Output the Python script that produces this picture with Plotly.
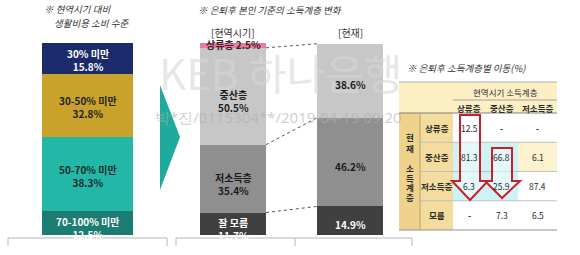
import plotly.graph_objects as go

W, H = 580, 255
FONT = "Noto Sans CJK KR"

# ---------------- data ----------------
left_title = ["※ 현역시기 대비", "생활비용 소비 수준"]
left_cats = ["30% 미만", "30-50% 미만", "50-70% 미만", "70-100% 미만"]
left_vals = [15.8, 32.8, 38.3, 12.5]
left_colors = ["#1b2a6b", "#c9a22c", "#22b7a6", "#1b7c71"]
left_text_colors = ["white", "#222222", "#1d2b2b", "white"]

mid_title = "※ 은퇴후 본인 기준의 소득계층 변화"
mid_periods = ["[현역시기]", "[현재]"]
mid_layers = ["상류층", "중산층", "저소득층", "잘 모름"]
mid_before = [2.5, 50.5, 35.4, 11.7]
mid_after = [0.0, 38.6, 46.2, 14.9]
mid_colors = ["#ec7a9c", "#c7c7c7", "#8f8f8f", "#404040"]
mid_text_colors = ["#3a1f2a", "#1a1a1a", "#1a1a1a", "white"]

table_title = "※ 은퇴후 소득계층별 이동(%)"
table_col_group = "현역시기 소득계층"
table_cols = ["상류층", "중산층", "저소득층"]
table_row_group = ["현", "재", "소", "득", "계", "층"]
table_rows = ["상류층", "중산층", "저소득층", "모름"]
table_vals = [["12.5", "-", "-"],
              ["81.3", "66.8", "6.1"],
              ["6.3", "25.9", "87.4"],
              ["-", "7.3", "6.5"]]

watermark1 = "KEB 하나은행"
watermark2 = "박*진/0115304**/2019-04-19 09:20"

# ---------------- helpers ----------------
def X(px):
    return px / W

def Y(py):
    return 1 - py / H

def P(points):
    return "M " + " L ".join(f"{X(a):.5f},{Y(b):.5f}" for a, b in points) + " Z"

fig = go.Figure()
annotations = []
shapes = []

def ann(**kw):
    d = dict(showarrow=False, xanchor="center", yanchor="middle")
    d.update(kw)
    annotations.append(d)

# ---------------- left stacked bar ----------------
for cat, v, c in reversed(list(zip(left_cats, left_vals, left_colors))):
    fig.add_trace(go.Bar(x=[0], y=[v], width=1, marker=dict(color=c, line=dict(width=0)),
                         name=cat, xaxis="x", yaxis="y", hoverinfo="skip"))
cum = 0
for cat, v, tc in reversed(list(zip(left_cats, left_vals, left_text_colors))):
    shift = -2 if cat != left_cats[-1] else -5
    ann(x=0, y=cum + v / 2, xref="x", yref="y", text=f"<b>{cat}<br>{v}%</b>", yshift=shift,
        font=dict(family=FONT, size=10, color=tc))
    cum += v
left_sum = sum(left_vals)

# ---------------- middle stacked bars ----------------
bw = 0.564
for lay, b, a, c in reversed(list(zip(mid_layers, mid_before, mid_after, mid_colors))):
    fig.add_trace(go.Bar(x=[0, 1], y=[b, a], width=bw, marker=dict(color=c, line=dict(width=0)),
                         name=lay, xaxis="x2", yaxis="y2", hoverinfo="skip"))
mid_sum = max(sum(mid_before), sum(mid_after))

cb = 0
ca = 0
cum_b = {}
cum_a = {}
for lay, b, a, tc in reversed(list(zip(mid_layers, mid_before, mid_after, mid_text_colors))):
    if lay == "상류층":
        ann(x=0, y=cb + b / 2, xref="x2", yref="y2", text=f"<b>{lay} {b}%</b>", yshift=1,
            font=dict(family=FONT, size=10, color=tc))
    else:
        ann(x=0, y=cb + b / 2, xref="x2", yref="y2", text=f"<b>{lay}<br>{b}%</b>", yshift=-5,
            font=dict(family=FONT, size=10, color=tc))
    if a > 0:
        ann(x=1, y=ca + a / 2, xref="x2", yref="y2", text=f"<b>{a}%</b>", yshift=-4,
            font=dict(family=FONT, size=10, color=tc))
    cb += b
    ca += a
    cum_b[lay] = cb
    cum_a[lay] = ca

# dotted connectors
for lay in ["중산층", "저소득층", "잘 모름"]:
    shapes.append(dict(type="line", xref="x2", yref="y2", x0=bw / 2, x1=1 - bw / 2,
                       y0=cum_b[lay], y1=cum_a[lay],
                       line=dict(color="#555555", width=1, dash="dot")))

for i, p in enumerate(mid_periods):
    ann(x=i, y=mid_sum, xref="x2", yref="y2", yanchor="bottom", yshift=1, text=p,
        font=dict(family=FONT, size=10, color="#333333"))

# ---------------- titles ----------------
tfont = dict(family=FONT, size=9.5, color="#333333")
ann(x=X(42), y=Y(9), xref="paper", yref="paper", xanchor="left",
    text=f"<i>{left_title[0]}</i>", font=tfont)
ann(x=X(52), y=Y(23), xref="paper", yref="paper", xanchor="left",
    text=f"<i>{left_title[1]}</i>", font=tfont)
ann(x=X(270), y=Y(10), xref="paper", yref="paper", text=f"<i>{mid_title}</i>", font=tfont)
ann(x=X(466), y=Y(68), xref="paper", yref="paper", text=f"<i>{table_title}</i>", font=tfont)

# ---------------- teal arrow ----------------
shapes.append(dict(type="path", xref="paper", yref="paper",
                   path=P([(160, 85), (180, 137), (160, 190)]),
                   fillcolor="#1eab9b", line=dict(width=0)))

# ---------------- brackets ----------------
br_col = "#b5b5b5"
for x0, x1, ticks in [(8, 167, [8, 167]), (176, 412, [176, 295, 412])]:
    shapes.append(dict(type="line", xref="paper", yref="paper", x0=X(x0), x1=X(x1),
                       y0=Y(238), y1=Y(238), line=dict(color=br_col, width=1)))
    for t in ticks:
        shapes.append(dict(type="line", xref="paper", yref="paper", x0=X(t), x1=X(t),
                           y0=Y(238), y1=Y(246), line=dict(color=br_col, width=1)))

# ---------------- table ----------------
col_edges = [399, 420, 453, 485, 518, 557]
top, mid_line, head_bot, bot = 82, 100, 113, 230
rh = (bot - head_bot) / len(table_rows)
row_edges = [head_bot + i * rh for i in range(len(table_rows) + 1)]

def rect(x0, y0, x1, y1, color):
    shapes.append(dict(type="rect", xref="paper", yref="paper", x0=X(x0), x1=X(x1),
                       y0=Y(y1), y1=Y(y0), fillcolor=color, line=dict(width=0), layer="below"))

def hline(y, x0, x1, color, w=1):
    shapes.append(dict(type="line", xref="paper", yref="paper", x0=X(x0), x1=X(x1),
                       y0=Y(y), y1=Y(y), line=dict(color=color, width=w)))

rect(col_edges[0], top, col_edges[-1], head_bot, "#fcefc4")
rect(col_edges[0], head_bot, col_edges[1], bot, "#efd38c")
rect(col_edges[1], head_bot, col_edges[2], bot, "#f4dc9e")
for r in (1, 2):
    for c in (0, 1):
        rect(col_edges[2 + c], row_edges[r], col_edges[3 + c], row_edges[r + 1], "#cff2f5")
rect(col_edges[4], row_edges[1], col_edges[5], row_edges[2], "#fdf2cf")

hline(top, col_edges[0], col_edges[-1], "#b0b0b0")
hline(mid_line, col_edges[2], col_edges[-1], "#a0a0a0")
hline(head_bot, col_edges[0], col_edges[-1], "#808080")
for y in row_edges[1:-1]:
    hline(y, col_edges[1], col_edges[-1], "#c0c0c0")
hline(bot, col_edges[0], col_edges[-1], "#909090")
shapes.append(dict(type="line", xref="paper", yref="paper", x0=X(col_edges[1]), x1=X(col_edges[1]),
                   y0=Y(head_bot), y1=Y(bot), line=dict(color="#b8a070", width=1)))

tf = dict(family=FONT, size=8.5, color="#2a2a2a")
ann(x=X((col_edges[2] + col_edges[-1]) / 2), y=Y((top + mid_line) / 2 + 1),
    xref="paper", yref="paper", text=table_col_group, font=tf)
for j, c in enumerate(table_cols):
    ann(x=X((col_edges[2 + j] + col_edges[3 + j]) / 2), y=Y((mid_line + head_bot) / 2 + 1),
        xref="paper", yref="paper", text=f"<b>{c}</b>", font=tf)
for i, r in enumerate(table_rows):
    yc = (row_edges[i] + row_edges[i + 1]) / 2
    ann(x=X((col_edges[1] + col_edges[2]) / 2), y=Y(yc), xref="paper", yref="paper",
        text=f"<b>{r}</b>", font=tf)
    for j, v in enumerate(table_vals[i]):
        ann(x=X((col_edges[2 + j] + col_edges[3 + j]) / 2), y=Y(yc),
            xref="paper", yref="paper", text=f"<b>{v}</b>" if v == "-" else v, font=tf)
vy = [137, 148, 168, 177.5, 187, 196.5]
for ch, yy in zip(table_row_group, vy):
    ann(x=X((col_edges[0] + col_edges[1]) / 2), y=Y(yy), xref="paper", yref="paper",
        text=f"<b>{ch}</b>", font=tf)

# red outline arrows
red = "#c8202a"
for sx0, sx1, sy0, hy, hx0, hx1, tip in [(460, 480, 115, 181, 452, 488, 200),
                                          (492, 512, 148, 181, 485, 520, 198)]:
    cx = (sx0 + sx1) / 2
    shapes.append(dict(type="path", xref="paper", yref="paper",
                       path=P([(sx0, sy0), (sx1, sy0), (sx1, hy), (hx1, hy), (cx, tip),
                               (hx0, hy), (sx0, hy)]),
                       fillcolor="rgba(255,255,255,0.45)", line=dict(color=red, width=2)))

# ---------------- watermarks ----------------
ann(x=X(280), y=Y(71), xref="paper", yref="paper", text=watermark1,
    font=dict(family=FONT, size=42, color="rgba(215,215,215,0.6)"))
ann(x=X(278), y=Y(117), xref="paper", yref="paper", text=watermark2,
    font=dict(family="Noto Sans", size=15, color="rgba(175,175,175,0.6)"))

# ---------------- layout ----------------
ydom = [Y(235), Y(43)]
hidden = dict(visible=False, showgrid=False, zeroline=False, fixedrange=True)
fig.update_layout(
    width=W, height=H, margin=dict(l=0, r=0, t=0, b=0),
    paper_bgcolor="white", plot_bgcolor="rgba(0,0,0,0)",
    barmode="stack", bargap=0, showlegend=False,
    xaxis=dict(domain=[X(42), X(133)], range=[-0.5, 0.5], anchor="y", **hidden),
    yaxis=dict(domain=ydom, range=[0, left_sum], anchor="x", **hidden),
    xaxis2=dict(domain=[X(200), X(383)], range=[-bw / 2, 1 + bw / 2], anchor="y2", **hidden),
    yaxis2=dict(domain=ydom, range=[0, mid_sum], anchor="x2", **hidden),
    annotations=annotations, shapes=shapes,
)

fig.write_html("out.html")
